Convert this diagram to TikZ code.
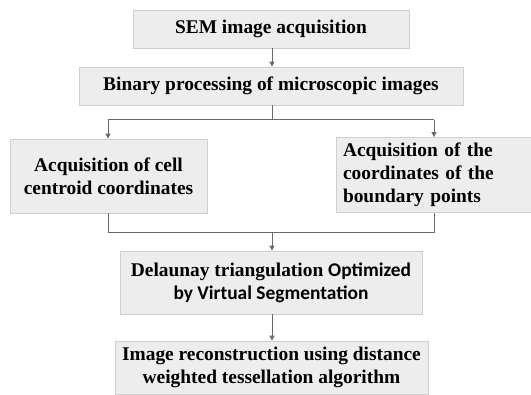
\documentclass[tikz,border=0pt]{standalone}
\usepackage{fontspec}
\setmainfont{Liberation Serif}
\newfontfamily\calibri{Carlito}
\usetikzlibrary{arrows.meta}
\definecolor{boxfill}{HTML}{EDEDED}
\definecolor{boxline}{HTML}{CFCFCF}
\definecolor{conn}{HTML}{6A6A6A}
\tikzset{
  box/.style={draw=boxline, fill=boxfill, line width=0.8pt, inner sep=0pt, align=center,
    font=\fontsize{19.4}{23}\selectfont\bfseries},
  conn/.style={draw=conn, line width=1pt},
  arr/.style={conn, -{Triangle[length=5pt,width=5pt]}}
}
\begin{document}
\begin{tikzpicture}[x=1pt,y=-1pt]
\useasboundingbox (0,0) rectangle (531,395);
\fill[white] (0,0) rectangle (531,395);
\node[box, minimum width=276pt, minimum height=38pt] (b1) at (271,29) {SEM image acquisition};
\node[box, minimum width=384pt, minimum height=38pt] (b2) at (271,86) {Binary processing of microscopic images};
\node[box, minimum width=197pt, minimum height=74pt] (b3) at (108.5,176) {Acquisition of cell\\centroid coordinates};
\node[box, minimum width=195pt, minimum height=75pt, text width=181pt, align=left] (b4) at (433.5,175) {Acquisition of the\\coordinates of the\\boundary points};
\node[box, minimum width=302pt, minimum height=63pt] (b5) at (271,282.5) {Delaunay triangulation {\calibri Optimized}\\{\calibri by Virtual Segmentation}};
\node[box, minimum width=313pt, minimum height=53pt] (b6) at (271.5,367.5) {Image reconstruction using distance\\weighted tessellation algorithm};
\coordinate (s1) at (272,120);
\coordinate (s1l) at (108,120);
\coordinate (s1r) at (434,120);
\coordinate (s2) at (272,233);
\coordinate (s2l) at (108,233);
\coordinate (s2r) at (434,233);
\draw[arr] (b1.south -| s1) -- (b2.north -| s1);
\draw[conn] (b2.south -| s1) -- (s1);
\draw[conn] (s1l) -- (s1r);
\draw[arr] (s1l) -- (b3.north -| s1l);
\draw[arr] (s1r) -- (b4.north -| s1r);
\draw[conn] (b3.south -| s2l) -- (s2l) -- (s2r) -- (b4.south -| s2r);
\draw[arr] (s2) -- (b5.north -| s2);
\draw[arr] (b5.south -| s2) -- (b6.north -| s2);
\end{tikzpicture}
\end{document}
